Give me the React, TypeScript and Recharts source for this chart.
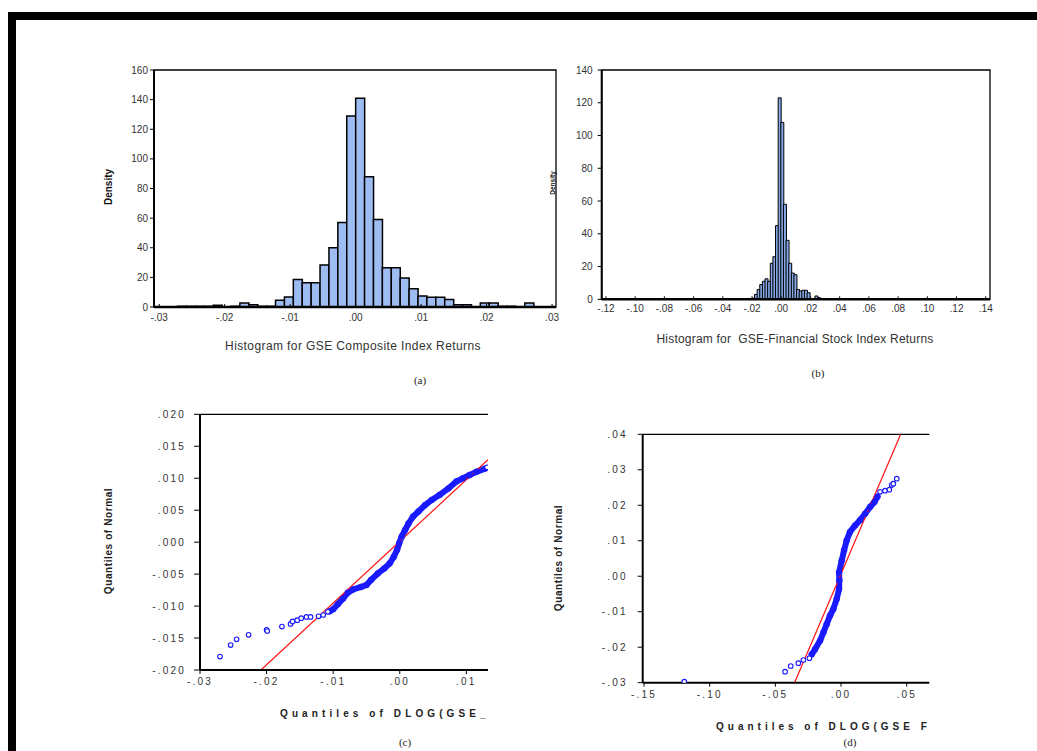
import React from 'react';
import {
  BarChart,
  Bar,
  XAxis,
  YAxis,
  ReferenceArea,
  ReferenceLine,
  ComposedChart,
  Scatter,
  Line,
} from 'recharts';

// ---------- (a) GSE Composite Index returns histogram ----------
const compositeBinWidth = 0.00136;
const compositeFirstBin = -22;
const compositeDensity = [
  0, 0, 0.5, 0.5, 0.5, 0.5, 1.2, 0, 0.5, 2.7, 1.5, 0.5, 0.5, 4.5, 6.8, 18.5,
  16.4, 16.4, 28.4, 40, 57, 129, 141, 88, 59, 26.5, 26.5, 19.5, 12.3, 7.5, 6.5,
  6.5, 5, 1.5, 1.5, 0, 2.7, 2.7, 0.5, 0.5, 0, 2.7, 0, 0,
];
const compositeXTicks = [-0.03, -0.02, -0.01, 0, 0.01, 0.02, 0.03];
const compositeYTicks = [0, 20, 40, 60, 80, 100, 120, 140, 160];

// ---------- (b) GSE Financial Stock Index returns histogram ----------
const financialBinWidth = 0.0018;
const financialBinOrigin = -0.0003;
const financialFirstBin = -14;
const financialDensity = [
  0.3, 0.5, 0.5, 0.7, 3, 6, 9, 11, 12.5, 11, 22, 26, 45, 123, 108, 58, 36, 22,
  16, 15, 6, 5, 5.5, 5.5, 4, 0.5, 0.5, 2, 1, 0.5, 0.3,
];
const financialXTicks = [
  -0.12, -0.1, -0.08, -0.06, -0.04, -0.02, 0, 0.02, 0.04, 0.06, 0.08, 0.1, 0.12, 0.14,
];
const financialYTicks = [0, 20, 40, 60, 80, 100, 120, 140];

// ---------- (c) Q-Q plot, composite index ----------
const compositeQQLowTail = [
  { x: -0.027, y: -0.0179 }, { x: -0.0254, y: -0.0161 }, { x: -0.0245, y: -0.0152 },
  { x: -0.0227, y: -0.0145 }, { x: -0.02, y: -0.0137 }, { x: -0.0199, y: -0.0139 },
  { x: -0.0177, y: -0.0132 }, { x: -0.0164, y: -0.0128 }, { x: -0.0161, y: -0.0124 },
  { x: -0.0154, y: -0.0122 }, { x: -0.0148, y: -0.0119 }, { x: -0.014, y: -0.0117 },
  { x: -0.0134, y: -0.0117 }, { x: -0.0122, y: -0.0116 }, { x: -0.0115, y: -0.0114 },
  { x: -0.0108, y: -0.0109 },
];
const compositeQQCore = [
  { x: -0.0105, y: -0.0108 }, { x: -0.01, y: -0.0105 }, { x: -0.0093, y: -0.0097 },
  { x: -0.0085, y: -0.0088 }, { x: -0.0078, y: -0.0079 }, { x: -0.007, y: -0.0074 },
  { x: -0.0058, y: -0.007 }, { x: -0.005, y: -0.0067 }, { x: -0.0043, y: -0.0059 },
  { x: -0.0033, y: -0.0049 }, { x: -0.0023, y: -0.0041 }, { x: -0.0015, y: -0.0033 },
  { x: -0.0009, y: -0.0023 }, { x: -0.0004, y: -0.0012 }, { x: -0.0001, y: -0.0002 },
  { x: 0.0003, y: 0.0009 }, { x: 0.0008, y: 0.0019 }, { x: 0.0013, y: 0.0029 },
  { x: 0.002, y: 0.004 }, { x: 0.0028, y: 0.0048 }, { x: 0.0038, y: 0.0058 },
  { x: 0.0048, y: 0.0066 }, { x: 0.006, y: 0.0074 }, { x: 0.0073, y: 0.0084 },
  { x: 0.0085, y: 0.0095 }, { x: 0.0095, y: 0.01 }, { x: 0.0105, y: 0.0105 },
  { x: 0.0115, y: 0.011 }, { x: 0.0128, y: 0.0115 },
];
const compositeQQHighTail = [{ x: 0.0131, y: 0.0117 }];
const compositeNormalLine = [
  { x: -0.02085, y: -0.02 },
  { x: 0.01325, y: 0.0129 },
];
const compositeQQXTicks = [-0.03, -0.02, -0.01, 0, 0.01];
const compositeQQYTicks = [0.02, 0.015, 0.01, 0.005, 0, -0.005, -0.01, -0.015, -0.02];

// ---------- (d) Q-Q plot, financial index ----------
const financialQQLowTail = [
  { x: -0.1193, y: -0.0297 }, { x: -0.0426, y: -0.0269 }, { x: -0.0383, y: -0.0253 },
  { x: -0.0325, y: -0.0245 }, { x: -0.0287, y: -0.0236 }, { x: -0.0241, y: -0.0231 },
];
const financialQQCore = [
  { x: -0.0223, y: -0.022 }, { x: -0.0198, y: -0.0206 }, { x: -0.016, y: -0.0182 },
  { x: -0.0134, y: -0.0158 }, { x: -0.0109, y: -0.0135 }, { x: -0.0084, y: -0.0111 },
  { x: -0.0058, y: -0.0092 }, { x: -0.0033, y: -0.0064 }, { x: -0.0015, y: -0.0036 },
  { x: -0.0013, y: -0.0012 }, { x: -0.0015, y: 0.0011 }, { x: 0.0005, y: 0.0044 },
  { x: 0.0023, y: 0.0073 }, { x: 0.0043, y: 0.0101 }, { x: 0.0068, y: 0.0125 },
  { x: 0.0107, y: 0.0143 }, { x: 0.0145, y: 0.0158 }, { x: 0.0183, y: 0.0176 },
  { x: 0.0221, y: 0.0195 }, { x: 0.0254, y: 0.0209 }, { x: 0.0277, y: 0.0224 },
];
const financialQQHighTail = [
  { x: 0.0297, y: 0.0238 }, { x: 0.0335, y: 0.0241 }, { x: 0.0368, y: 0.0244 },
  { x: 0.0386, y: 0.0257 }, { x: 0.0398, y: 0.0261 }, { x: 0.0424, y: 0.0275 },
];
const financialNormalLine = [
  { x: -0.0354, y: -0.03 },
  { x: 0.0454, y: 0.04 },
];
const financialQQXTicks = [-0.15, -0.1, -0.05, 0, 0.05];
const financialQQYTicks = [0.04, 0.03, 0.02, 0.01, 0, -0.01, -0.02, -0.03];

// ---------- helpers ----------
const compositeBins = compositeDensity.map((d, i) => ({
  x: (compositeFirstBin + i + 0.5) * compositeBinWidth,
  d,
}));
const financialBins = financialDensity.map((d, i) => ({
  x: financialBinOrigin + (financialFirstBin + i + 0.5) * financialBinWidth,
  d,
}));

const decimalLabel = (digits: number) => (v: number) => {
  const body = Math.abs(v).toFixed(digits).replace(/^0/, '');
  return v < -1e-12 ? '-' + body : body;
};

const QQ_BLUE = '#1a1aff';
const QQ_RED = '#ff1010';

// sparse observations: hollow markers
const OpenCircle = (props: any) => {
  const { cx, cy } = props;
  if (cx == null || cy == null) return null;
  return <circle cx={cx} cy={cy} r={2.3} fill="#fff" stroke={QQ_BLUE} strokeWidth={1.1} />;
};

// crowded observations: overlapping markers read as a solid band
const SolidCircle = (props: any) => {
  const { cx, cy } = props;
  if (cx == null || cy == null) return null;
  return <circle cx={cx} cy={cy} r={3} fill={QQ_BLUE} stroke={QQ_BLUE} strokeWidth={0.5} />;
};

const histTick = { fontSize: 10, fill: '#333' };
const qqTick = { fontSize: 10, fill: '#333', letterSpacing: 2.2 };

export default function App() {
  const compositeDomain: [number, number] = [-0.0308, 0.0306];
  const financialDomain: [number, number] = [-0.1229, 0.1429];
  const compositeQQSparse = [...compositeQQLowTail, ...compositeQQHighTail];
  const financialQQSparse = [...financialQQLowTail, ...financialQQHighTail];

  return (
    <div
      style={{
        position: 'absolute',
        left: 0,
        top: 0,
        width: 1037,
        height: 751,
        background: '#fff',
        overflow: 'hidden',
        fontFamily: '"Liberation Sans", Arial, sans-serif',
      }}
    >
      {/* page frame */}
      <div style={{ position: 'absolute', left: 8, top: 12, width: 1029, height: 8, background: '#000' }} />
      <div style={{ position: 'absolute', left: 8, top: 12, width: 8, height: 739, background: '#000' }} />

      {/* (a) */}
      <div style={{ position: 'absolute', left: 100, top: 60 }}>
        <BarChart
          width={470}
          height={300}
          data={compositeBins}
          margin={{ top: 10, right: 14, bottom: 33, left: 24 }}
          barCategoryGap={0}
          barGap={0}
        >
          <XAxis
            type="number"
            dataKey="x"
            domain={compositeDomain}
            ticks={compositeXTicks}
            tickFormatter={decimalLabel(2)}
            allowDataOverflow
            interval={0}
            height={20}
            tickSize={-3}
            tickMargin={10}
            axisLine={{ stroke: '#000', strokeWidth: 2.5 }}
            tickLine={{ stroke: '#000' }}
            tick={histTick}
          />
          <YAxis
            type="number"
            domain={[0, 160]}
            ticks={compositeYTicks}
            interval={0}
            width={30}
            tickSize={4}
            tickMargin={2}
            axisLine={{ stroke: '#000', strokeWidth: 2 }}
            tickLine={{ stroke: '#000' }}
            tick={histTick}
          />
          <Bar dataKey="d" fill="#9dbdf2" stroke="#000" strokeWidth={1.5} isAnimationActive={false} />
          <ReferenceArea
            x1={compositeDomain[0]}
            x2={compositeDomain[1]}
            y1={0}
            y2={160}
            fill="none"
            fillOpacity={0}
            stroke="#000"
            strokeWidth={1.3}
            ifOverflow="visible"
          />
        </BarChart>
      </div>

      {/* (b) */}
      <div style={{ position: 'absolute', left: 545, top: 60 }}>
        <BarChart
          width={460}
          height={300}
          data={financialBins}
          margin={{ top: 10, right: 15, bottom: 40.7, left: 26.7 }}
          barCategoryGap={0}
          barGap={0}
        >
          <XAxis
            type="number"
            dataKey="x"
            domain={financialDomain}
            ticks={financialXTicks}
            tickFormatter={decimalLabel(2)}
            allowDataOverflow
            interval={0}
            height={20}
            tickSize={-3}
            tickMargin={9}
            axisLine={{ stroke: '#000', strokeWidth: 2.5 }}
            tickLine={{ stroke: '#000' }}
            tick={histTick}
          />
          <YAxis
            type="number"
            domain={[0, 140]}
            ticks={financialYTicks}
            interval={0}
            width={30}
            tickSize={4}
            tickMargin={5}
            axisLine={{ stroke: '#000', strokeWidth: 2 }}
            tickLine={{ stroke: '#000' }}
            tick={histTick}
          />
          <Bar dataKey="d" fill="#86a8e6" stroke="#000" strokeWidth={1} isAnimationActive={false} />
          <ReferenceArea
            x1={financialDomain[0]}
            x2={financialDomain[1]}
            y1={0}
            y2={140}
            fill="none"
            fillOpacity={0}
            stroke="#000"
            strokeWidth={1.3}
            ifOverflow="visible"
          />
        </BarChart>
      </div>

      {/* (c) */}
      <div style={{ position: 'absolute', left: 100, top: 400 }}>
        <ComposedChart width={400} height={350} margin={{ top: 14.3, right: 12, bottom: 60, left: 40 }}>
          <XAxis
            type="number"
            dataKey="x"
            domain={[-0.03, 0.01325]}
            ticks={compositeQQXTicks}
            tickFormatter={decimalLabel(2)}
            allowDataOverflow
            interval={0}
            height={20}
            tickSize={4}
            tickMargin={4}
            axisLine={{ stroke: '#000', strokeWidth: 2 }}
            tickLine={{ stroke: '#000' }}
            tick={qqTick}
          />
          <YAxis
            type="number"
            dataKey="y"
            domain={[-0.02, 0.02]}
            ticks={compositeQQYTicks}
            tickFormatter={decimalLabel(3)}
            allowDataOverflow
            interval={0}
            width={60}
            tickSize={6}
            tickMargin={8}
            axisLine={{ stroke: '#000', strokeWidth: 2 }}
            tickLine={{ stroke: '#000' }}
            tick={qqTick}
          />
          <ReferenceLine y={0.02} stroke="#000" strokeWidth={1.2} />
          <Line
            data={compositeQQCore}
            dataKey="y"
            stroke={QQ_BLUE}
            strokeWidth={6}
            strokeLinecap="round"
            strokeLinejoin="round"
            dot={false}
            isAnimationActive={false}
          />
          <Scatter data={compositeQQCore} shape={<SolidCircle />} isAnimationActive={false} />
          <Scatter data={compositeQQSparse} shape={<OpenCircle />} isAnimationActive={false} />
          <Line
            data={compositeNormalLine}
            dataKey="y"
            stroke={QQ_RED}
            strokeWidth={1.2}
            dot={false}
            isAnimationActive={false}
          />
        </ComposedChart>
      </div>

      {/* (d) */}
      <div style={{ position: 'absolute', left: 540, top: 420 }}>
        <ComposedChart width={420} height={330} margin={{ top: 14.3, right: 30.7, bottom: 47.3, left: 42.7 }}>
          <XAxis
            type="number"
            dataKey="x"
            domain={[-0.151, 0.0672]}
            ticks={financialQQXTicks}
            tickFormatter={decimalLabel(2)}
            allowDataOverflow
            interval={0}
            height={20}
            tickSize={4}
            tickMargin={4}
            axisLine={{ stroke: '#000', strokeWidth: 2 }}
            tickLine={{ stroke: '#000' }}
            tick={qqTick}
          />
          <YAxis
            type="number"
            dataKey="y"
            domain={[-0.03, 0.04]}
            ticks={financialQQYTicks}
            tickFormatter={decimalLabel(2)}
            allowDataOverflow
            interval={0}
            width={60}
            tickSize={5}
            tickMargin={10}
            axisLine={{ stroke: '#000', strokeWidth: 2 }}
            tickLine={{ stroke: '#000' }}
            tick={qqTick}
          />
          <ReferenceLine y={0.04} stroke="#000" strokeWidth={1.2} />
          <Line
            data={financialQQCore}
            dataKey="y"
            stroke={QQ_BLUE}
            strokeWidth={6}
            strokeLinecap="round"
            strokeLinejoin="round"
            dot={false}
            isAnimationActive={false}
          />
          <Scatter data={financialQQCore} shape={<SolidCircle />} isAnimationActive={false} />
          <Scatter data={financialQQSparse} shape={<OpenCircle />} isAnimationActive={false} />
          <Line
            data={financialNormalLine}
            dataKey="y"
            stroke={QQ_RED}
            strokeWidth={1.2}
            dot={false}
            isAnimationActive={false}
          />
        </ComposedChart>
      </div>

      {/* captions and axis titles */}
      <svg
        width={1037}
        height={751}
        style={{ position: 'absolute', left: 0, top: 0, pointerEvents: 'none' }}
      >
        <g fontFamily='"Liberation Sans", Arial, sans-serif'>
          <text x={353} y={350} fontSize={12} fill="#333" textAnchor="middle" letterSpacing={0.4}>
            Histogram for GSE Composite Index Returns
          </text>
          <text x={795} y={343} fontSize={12} fill="#333" textAnchor="middle" letterSpacing={0.2} style={{ whiteSpace: 'pre' }}>
            {'Histogram for  GSE-Financial Stock Index Returns'}
          </text>
          <text transform="translate(112,187) rotate(-90)" fontSize={10} fontWeight="bold" fill="#111" textAnchor="middle">
            Density
          </text>
          <text transform="translate(555,183) rotate(-90)" fontSize={6.5} fontWeight="bold" fill="#111" textAnchor="middle">
            Density
          </text>
          <text transform="translate(112,541) rotate(-90)" fontSize={10} fontWeight="bold" fill="#222" textAnchor="middle" letterSpacing={0.6}>
            Quantiles of Normal
          </text>
          <text transform="translate(562,558) rotate(-90)" fontSize={10} fontWeight="bold" fill="#222" textAnchor="middle" letterSpacing={0.6}>
            Quantiles of Normal
          </text>
          <text x={280} y={717} fontSize={10} fontWeight="bold" fill="#222" letterSpacing={4.1}>
            Quantiles of DLOG(GSE_
          </text>
          <text x={716} y={730} fontSize={10} fontWeight="bold" fill="#222" letterSpacing={4} style={{ whiteSpace: 'pre' }}>
            {'Quantiles of DLOG(GSE F'}
          </text>
        </g>
        <g fontFamily='"Liberation Serif", "Times New Roman", serif' fontSize={11} fill="#222" textAnchor="middle">
          <text x={420} y={384}>(a)</text>
          <text x={818} y={377}>(b)</text>
          <text x={405} y={746}>(c)</text>
          <text x={850} y={746}>(d)</text>
        </g>
      </svg>
    </div>
  );
}
